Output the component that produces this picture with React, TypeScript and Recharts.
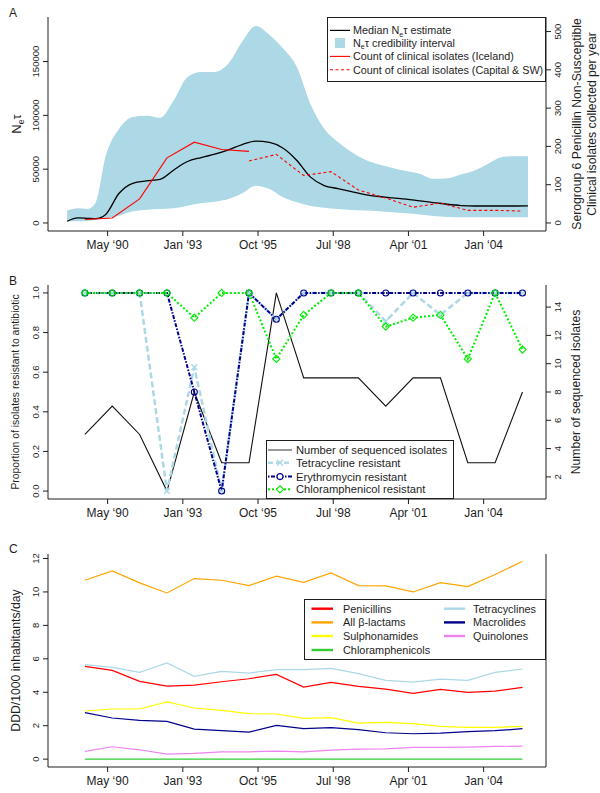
import React from 'react'
import { ComposedChart, Line, Area, XAxis, YAxis, Legend } from 'recharts'

const FONT = '"Liberation Sans", Arial, Helvetica, sans-serif'
const INK = '#1e1e1e'

// shared time axis, decimal years
const xDomain: [number, number] = [1988.15, 2006.36]
const xTicks = [1990.33, 1993.08, 1995.83, 1998.58, 2001.33, 2004.08]
const xTickLabels = ['May ‘90', 'Jan ‘93', 'Oct ‘95', 'Jul ‘98', 'Apr ‘01', 'Jan ‘04']
const years = [1989.5, 1990.5, 1991.5, 1992.5, 1993.5, 1994.5, 1995.5, 1996.5, 1997.5, 1998.5, 1999.5, 2000.5, 2001.5, 2002.5, 2003.5, 2004.5, 2005.5]

// ---- panel A: Ne*tau ----
const bandYears = [1988.85, 1989.25, 1989.6, 1989.9, 1990.25, 1990.75, 1991.25, 1991.75, 1992.25, 1992.75, 1993.25, 1993.75, 1994.25, 1994.75, 1995.25, 1995.75, 1996.25, 1996.75, 1997.25, 1997.75, 1998.25, 1998.75, 1999.25, 1999.75, 2000.25, 2000.75, 2001.25, 2001.75, 2002.25, 2002.75, 2003.25, 2003.75, 2004.25, 2004.75, 2005.25, 2005.7]
const neUpper = [11600, 13700, 13100, 19300, 61200, 87600, 98500, 99700, 97800, 114000, 135700, 140400, 140400, 148100, 168300, 183000, 174600, 162100, 145000, 110300, 87600, 75200, 65900, 58700, 54400, 51200, 48200, 45600, 41000, 41600, 45100, 48800, 55000, 61200, 62100, 62100]
const neLower = [1600, 1600, 1900, 2800, 4300, 6800, 10800, 12400, 13000, 13700, 16100, 18300, 19800, 22300, 27600, 34700, 31600, 23800, 19200, 15800, 14200, 13000, 12100, 11500, 10800, 9900, 9000, 7800, 6500, 5600, 5300, 5300, 5300, 5300, 5300, 5300]
const neMedian = [1600, 4700, 4300, 4000, 7700, 27600, 36900, 39100, 40600, 49300, 57100, 60800, 63900, 67900, 72900, 76000, 74800, 69500, 58100, 42600, 34800, 32000, 29200, 26400, 24600, 23300, 22100, 20500, 19000, 17400, 16200, 15800, 15800, 15800, 15800, 15900]
const icelandCounts = [9, 13, 63, 170, 211, 192, 187] // 1989-1995
const capitalCounts = [162, 179, 124, 134, 86, 65, 41, 52, 33, 33, 31] // 1995-2005

// ---- panel B: resistance ----
const seqCount = [5, 7, 5, 1, 8, 3, 3, 15, 9, 9, 9, 7, 9, 9, 3, 3, 8]
const tetRes = [1, 1, 1, 0, 0.625, 0, 1, 0.867, 1, 1, 1, 0.857, 1, 0.889, 1, 1, 1]
const eryRes = [1, 1, 1, 1, 0.5, 0, 1, 0.867, 1, 1, 1, 1, 1, 1, 1, 1, 1]
const chlRes = [1, 1, 1, 1, 0.875, 1, 1, 0.667, 0.889, 1, 1, 0.83, 0.875, 0.889, 0.667, 1, 0.714]

// ---- panel C: antibiotic use (DDD/1000 inhabitants/day) ----
const penicillins = [5.55, 5.31, 4.65, 4.37, 4.43, 4.63, 4.81, 5.07, 4.31, 4.59, 4.35, 4.19, 3.93, 4.17, 3.99, 4.07, 4.29]
const betaLactams = [10.7, 11.26, 10.54, 9.94, 10.8, 10.7, 10.38, 10.94, 10.58, 11.14, 10.38, 10.36, 10.0, 10.56, 10.32, 11.04, 11.84]
const sulphonamides = [2.88, 3.0, 3.0, 3.43, 3.06, 2.92, 2.72, 2.7, 2.44, 2.48, 2.16, 2.2, 2.12, 1.96, 1.9, 1.9, 1.96]
const chloramphenicols = [0, 0, 0, 0, 0, 0, 0, 0, 0, 0, 0, 0, 0, 0, 0, 0, 0]
const tetracyclines = [5.65, 5.49, 5.19, 5.75, 4.95, 5.25, 5.15, 5.35, 5.35, 5.43, 5.11, 4.71, 4.61, 4.79, 4.71, 5.19, 5.39]
const macrolides = [2.78, 2.46, 2.32, 2.26, 1.8, 1.7, 1.62, 2.02, 1.82, 1.88, 1.76, 1.58, 1.52, 1.56, 1.64, 1.7, 1.82]
const quinolones = [0.46, 0.74, 0.56, 0.3, 0.34, 0.44, 0.44, 0.48, 0.44, 0.54, 0.6, 0.62, 0.7, 0.7, 0.72, 0.76, 0.78]

const bandRows = bandYears.map((yr, i) => ({ yr, band: [neLower[i], neUpper[i]], med: neMedian[i] }))
const icelandRows = icelandCounts.map((n, i) => ({ yr: years[i], n }))
const capitalRows = capitalCounts.map((n, i) => ({ yr: years[i + 6], n }))
const resRows = years.map((yr, i) => ({ yr, n: seqCount[i], tet: tetRes[i], ery: eryRes[i], chl: chlRes[i] }))
const useRows = years.map((yr, i) => ({
  yr, pen: penicillins[i], bl: betaLactams[i], sul: sulphonamides[i], chl: chloramphenicols[i],
  tet: tetracyclines[i], mac: macrolides[i], qui: quinolones[i],
}))

const XTick = (p: any) => (
  <text x={p.x} y={p.y} dy="0.71em" textAnchor="middle" fontSize={12} fontFamily={FONT} fill={INK}>
    {xTickLabels[xTicks.indexOf(p.payload.value)]}
  </text>
)

const rotTick = (fmt: (v: number) => string) => (p: any) => (
  <text x={p.x} y={p.y} transform={`rotate(-90 ${p.x} ${p.y})`} textAnchor="middle" fontSize={9.5} fontFamily={FONT} fill={INK}>
    {fmt(p.payload.value)}
  </text>
)

const vTitle = (lines: { x: number; size: number; text: React.ReactNode }[]) => (p: any) => {
  const cy = p.viewBox.y + p.viewBox.height / 2
  return (
    <g>
      {lines.map((l, i) => (
        <text key={i} x={l.x} y={cy} transform={`rotate(-90 ${l.x} ${cy})`} textAnchor="middle" fontSize={l.size} fontFamily={FONT} fill={INK}>
          {l.text}
        </text>
      ))}
    </g>
  )
}

const xAxis = (h: number) => (
  <XAxis dataKey="yr" type="number" domain={xDomain} ticks={xTicks} interval={0} allowDataOverflow height={h}
    tickSize={5} tickMargin={4} tick={XTick} axisLine={{ stroke: INK }} tickLine={{ stroke: INK }} />
)
const topFrame = (
  <XAxis xAxisId="top" orientation="top" type="number" domain={xDomain} allowDataOverflow height={0}
    tick={false} tickLine={false} axisLine={{ stroke: INK }} />
)

const txt = { fontSize: 10.8, fontFamily: FONT, fill: INK }

function LegendA() {
  const r = [13.4, 26, 39.4, 52.7]
  return (
    <svg width={219} height={65} style={{ display: 'block' }}>
      <rect x={0.5} y={0.5} width={218} height={64} fill="#fff" stroke={INK} />
      <line x1={3} x2={23} y1={r[0]} y2={r[0]} stroke="#000" strokeWidth={1.2} />
      <rect x={8} y={r[1] - 5} width={10} height={10} fill="#ADD8E6" />
      <line x1={3} x2={23} y1={r[2]} y2={r[2]} stroke="#FF0000" strokeWidth={1.1} />
      <line x1={3} x2={23} y1={r[3]} y2={r[3]} stroke="#FF0000" strokeWidth={1.1} strokeDasharray="3 2.5" />
      <text x={26} y={r[0] + 3.8} {...txt}>Median N<tspan dy={2.5} fontSize={7}>e</tspan><tspan dy={-2.5}>τ estimate</tspan></text>
      <text x={26} y={r[1] + 3.8} {...txt}>N<tspan dy={2.5} fontSize={7}>e</tspan><tspan dy={-2.5}>τ credibility interval</tspan></text>
      <text x={26} y={r[2] + 3.8} {...txt}>Count of clinical isolates (Iceland)</text>
      <text x={26} y={r[3] + 3.8} {...txt}>Count of clinical isolates (Capital &amp; SW)</text>
    </svg>
  )
}

const TET = '#ADD8E6'
const ERY = '#00008B'
const CHL = '#00EE00'

const crossMark = (cx: number, cy: number, r = 3) =>
  `M${cx - r},${cy - r}L${cx + r},${cy + r}M${cx - r},${cy + r}L${cx + r},${cy - r}`
const diamondMark = (cx: number, cy: number, r = 3.6) =>
  `M${cx},${cy - r}L${cx + r},${cy}L${cx},${cy + r}L${cx - r},${cy}Z`

const tetDot = (p: any) => <path key={`t${p.index}`} d={crossMark(p.cx, p.cy)} stroke={TET} strokeWidth={1.4} fill="none" />
const eryDot = (p: any) => <circle key={`e${p.index}`} cx={p.cx} cy={p.cy} r={3} stroke={ERY} strokeWidth={1.1} fill="none" />
const chlDot = (p: any) => <path key={`c${p.index}`} d={diamondMark(p.cx, p.cy)} stroke={CHL} strokeWidth={1.1} fill="none" />

function LegendB() {
  const r = [10, 22.8, 36.6, 49.3]
  const t = { ...txt, fontSize: 11.2 }
  return (
    <svg width={188} height={59} style={{ display: 'block' }}>
      <rect x={0.5} y={0.5} width={187} height={58} fill="#fff" stroke={INK} />
      <line x1={2} x2={26} y1={r[0]} y2={r[0]} stroke="#555" strokeWidth={1.2} />
      <line x1={2} x2={26} y1={r[1]} y2={r[1]} stroke={TET} strokeWidth={2.5} strokeDasharray="5 3" />
      <path d={crossMark(14, r[1])} stroke={TET} strokeWidth={1.4} />
      <line x1={2} x2={26} y1={r[2]} y2={r[2]} stroke={ERY} strokeWidth={2} strokeDasharray="1.5 1.5 4 1.5" />
      <circle cx={14} cy={r[2]} r={3} stroke={ERY} strokeWidth={1.1} fill="#fff" />
      <line x1={2} x2={26} y1={r[3]} y2={r[3]} stroke={CHL} strokeWidth={2} strokeDasharray="2 2" />
      <path d={diamondMark(14, r[3])} stroke={CHL} strokeWidth={1.1} fill="#fff" />
      <text x={30} y={r[0] + 4} {...t}>Number of sequenced isolates</text>
      <text x={30} y={r[1] + 4} {...t}>Tetracycline resistant</text>
      <text x={30} y={r[2] + 4} {...t}>Erythromycin resistant</text>
      <text x={30} y={r[3] + 4} {...t}>Chloramphenicol resistant</text>
    </svg>
  )
}

const C_COLORS = {
  pen: '#FF0000', bl: '#FFA500', sul: '#FFFF00', chl: '#32CD32',
  tet: '#ADD8E6', mac: '#00008B', qui: '#EE82EE',
}

function LegendC() {
  const r = [9.7, 23.4, 37, 51]
  const col1 = [['pen', 'Penicillins'], ['bl', 'All β-lactams'], ['sul', 'Sulphonamides'], ['chl', 'Chloramphenicols']]
  const col2 = [['tet', 'Tetracyclines'], ['mac', 'Macrolides'], ['qui', 'Quinolones']]
  const t = { ...txt, fontSize: 10.9 }
  return (
    <svg width={242} height={61} style={{ display: 'block' }}>
      <rect x={0.5} y={0.5} width={241} height={60} fill="#fff" stroke={INK} />
      {col1.map(([k, label], i) => (
        <g key={k}>
          <line x1={7.5} x2={29} y1={r[i]} y2={r[i]} stroke={(C_COLORS as any)[k]} strokeWidth={2.4} />
          <text x={39} y={r[i] + 4} {...t}>{label}</text>
        </g>
      ))}
      {col2.map(([k, label], i) => (
        <g key={k}>
          <line x1={140} x2={161} y1={r[i]} y2={r[i]} stroke={(C_COLORS as any)[k]} strokeWidth={2.4} />
          <text x={169} y={r[i] + 4} {...t}>{label}</text>
        </g>
      ))}
    </svg>
  )
}

const letter = (ch: string, top: number) => (
  <div style={{ position: 'absolute', left: 9, top, fontSize: 12, lineHeight: '12px', color: INK }}>{ch}</div>
)

export default function App() {
  return (
    <div style={{ position: 'absolute', left: 0, top: 0, width: 600, height: 793, overflow: 'hidden', background: '#fff', fontFamily: FONT }}>
      {letter('A', 7)}
      {letter('B', 275)}
      {letter('C', 543)}

      <div style={{ position: 'absolute', left: 0, top: 0 }}>
        <ComposedChart width={600} height={265} data={bandRows} margin={{ top: 17, right: 0, bottom: 0, left: 0 }}>
          {xAxis(34)}
          {topFrame}
          <YAxis yAxisId="ne" width={48} domain={[-7450, 191400]} ticks={[0, 50000, 100000, 150000]} allowDataOverflow
            tickSize={5} tickMargin={4} tick={rotTick(v => String(v))} axisLine={{ stroke: INK }} tickLine={{ stroke: INK }}
            label={vTitle([{ x: 21, size: 13, text: <>N<tspan dy={3} fontSize={8.5}>e</tspan><tspan dy={-3}>τ</tspan></> }])} />
          <YAxis yAxisId="cnt" orientation="right" width={54} domain={[-21, 538]} allowDataOverflow
            ticks={[0, 50, 100, 150, 200, 250, 300, 350, 400, 450, 500]}
            tickSize={5} tickMargin={10} tick={rotTick(v => (v % 100 === 0 ? String(v) : ''))}
            axisLine={{ stroke: INK }} tickLine={{ stroke: INK }}
            label={vTitle([
              { x: 581, size: 12.2, text: 'Serogroup 6 Penicillin Non-Susceptible' },
              { x: 596, size: 12.2, text: 'Clinical isolates collected per year' },
            ])} />
          <Area yAxisId="ne" dataKey="band" type="monotone" fill="#ADD8E6" fillOpacity={1} stroke="none" isAnimationActive={false} />
          <Line yAxisId="ne" dataKey="med" type="monotone" stroke="#000" strokeWidth={1.3} dot={false} isAnimationActive={false} />
          <Line yAxisId="cnt" data={icelandRows} dataKey="n" stroke="#FF0000" strokeWidth={1.1} dot={false} isAnimationActive={false} />
          <Line yAxisId="cnt" data={capitalRows} dataKey="n" stroke="#FF0000" strokeWidth={1.1} strokeDasharray="3 2.5" dot={false} isAnimationActive={false} />
          <Legend layout="vertical" align="center" verticalAlign="middle" content={() => <LegendA />}
            wrapperStyle={{ left: 327, top: 17, width: 219, height: 65 }} />
        </ComposedChart>
      </div>

      <div style={{ position: 'absolute', left: 0, top: 268 }}>
        <ComposedChart width={600} height={265} data={resRows} margin={{ top: 17, right: 0, bottom: 0, left: 0 }}>
          {xAxis(34)}
          {topFrame}
          <YAxis yAxisId="p" width={48} domain={[-0.04, 1.04]} ticks={[0, 0.2, 0.4, 0.6, 0.8, 1]} allowDataOverflow
            tickSize={5} tickMargin={4} tick={rotTick(v => v.toFixed(1))} axisLine={{ stroke: INK }} tickLine={{ stroke: INK }}
            label={vTitle([{ x: 19, size: 10.4, text: 'Proportion of isolates resistant to antibiotic' }])} />
          <YAxis yAxisId="n" orientation="right" width={54} domain={[0.44, 15.56]} ticks={[2, 4, 6, 8, 10, 12, 14]} allowDataOverflow
            tickSize={5} tickMargin={10} tick={rotTick(v => String(v))} axisLine={{ stroke: INK }} tickLine={{ stroke: INK }}
            label={vTitle([{ x: 580, size: 12.2, text: 'Number of sequenced isolates' }])} />
          <Line yAxisId="n" dataKey="n" stroke="#111" strokeWidth={1.1} dot={false} isAnimationActive={false} />
          <Line yAxisId="p" dataKey="tet" stroke={TET} strokeWidth={2.5} strokeDasharray="6 3" dot={tetDot} isAnimationActive={false} />
          <Line yAxisId="p" dataKey="ery" stroke={ERY} strokeWidth={2} strokeDasharray="1.5 1.5 4 1.5" dot={eryDot} isAnimationActive={false} />
          <Line yAxisId="p" dataKey="chl" stroke={CHL} strokeWidth={2} strokeDasharray="2 2" dot={chlDot} isAnimationActive={false} />
          <Legend layout="vertical" align="center" verticalAlign="middle" content={() => <LegendB />}
            wrapperStyle={{ left: 266, top: 172, width: 188, height: 59 }} />
        </ComposedChart>
      </div>

      <div style={{ position: 'absolute', left: 0, top: 537 }}>
        <ComposedChart width={600} height={256} data={useRows} margin={{ top: 17, right: 0, bottom: 0, left: 0 }}>
          {xAxis(26)}
          {topFrame}
          <YAxis yAxisId="d" width={48} domain={[-0.47, 12.27]} ticks={[0, 2, 4, 6, 8, 10, 12]} allowDataOverflow
            tickSize={5} tickMargin={4} tick={rotTick(v => String(v))} axisLine={{ stroke: INK }} tickLine={{ stroke: INK }}
            label={vTitle([{ x: 19.5, size: 12.2, text: 'DDD/1000 inhabitants/day' }])} />
          <YAxis yAxisId="frame" orientation="right" width={54} domain={[0, 1]} tick={false} tickLine={false} axisLine={{ stroke: INK }} />
          {(['pen', 'bl', 'sul', 'chl', 'tet', 'mac', 'qui'] as const).map(k => (
            <Line key={k} yAxisId="d" dataKey={k} stroke={C_COLORS[k]} strokeWidth={1.2} dot={false} isAnimationActive={false} />
          ))}
          <Legend layout="vertical" align="center" verticalAlign="middle" content={() => <LegendC />}
            wrapperStyle={{ left: 304, top: 62, width: 242, height: 61 }} />
        </ComposedChart>
      </div>
    </div>
  )
}
